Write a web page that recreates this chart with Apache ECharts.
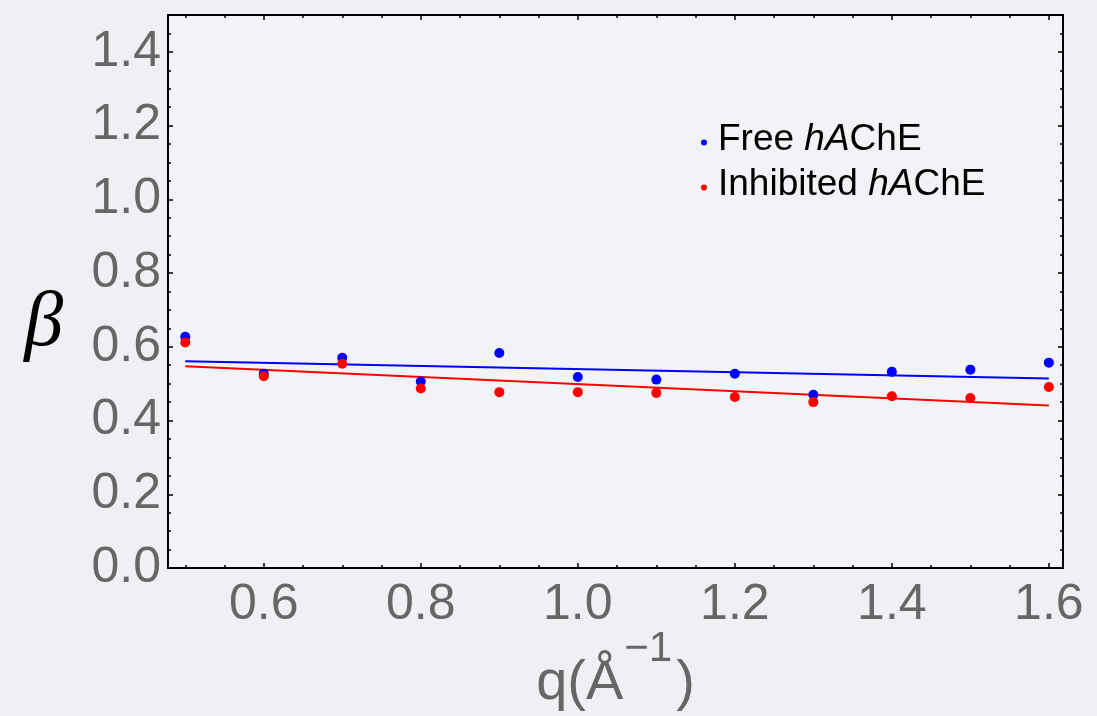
<!DOCTYPE html>
<html>
<head>
<meta charset="utf-8">
<script src="https://cdn.jsdelivr.net/npm/echarts@6/dist/echarts.min.js"></script>
<style>
  html, body { margin: 0; padding: 0; background: #eff0f4; }
  #chart { width: 1097px; height: 716px; }
</style>
</head>
<body>
<div id="chart"></div>
<script>
// Stretching exponent beta versus momentum transfer q
const qValues = [0.5, 0.6, 0.7, 0.8, 0.9, 1.0, 1.1, 1.2, 1.3, 1.4, 1.5, 1.6];
const betaFree = [0.627, 0.527, 0.570, 0.506, 0.583, 0.518, 0.511, 0.527, 0.470, 0.532, 0.538, 0.557];
const betaInhibited = [0.612, 0.520, 0.554, 0.487, 0.477, 0.477, 0.475, 0.464, 0.450, 0.466, 0.461, 0.491];

// Linear fit lines, evaluated at the ends of the q range
const fitQ = [0.5, 1.6];
const fitFree = [0.561, 0.514];
const fitInhibited = [0.547, 0.441];

// Tick values
const xMajorTicks = [0.6, 0.8, 1.0, 1.2, 1.4, 1.6];
const xMinorTicks = [0.5, 0.55, 0.65, 0.7, 0.75, 0.85, 0.9, 0.95, 1.05, 1.1, 1.15, 1.25, 1.3, 1.35, 1.45, 1.5, 1.55];
const yMajorTicks = [0.0, 0.2, 0.4, 0.6, 0.8, 1.0, 1.2, 1.4];
const yMinorTicks = [0.05, 0.1, 0.15, 0.25, 0.3, 0.35, 0.45, 0.5, 0.55, 0.65, 0.7, 0.75, 0.85, 0.9, 0.95, 1.05, 1.1, 1.15, 1.25, 1.3, 1.35, 1.45];

const seriesNames = ['Free hAChE', 'Inhibited hAChE'];
const seriesColors = ['#0000ff', '#ff0000'];

const pairs = (xs, ys) => xs.map((x, i) => [x, ys[i]]);

const X_MIN = 0.478, X_MAX = 1.618, Y_MIN = 0, Y_MAX = 1.5;
const labelFont = 'Liberation Sans, Arial, sans-serif';
const labelGray = '#666666';

function makeX(position, ticks, len, withLabels, showName) {
  return {
    type: 'value', position: position, min: X_MIN, max: X_MAX,
    axisLine: { show: true, onZero: false, lineStyle: { color: '#000', width: 2 } },
    axisTick: { show: true, inside: true, length: len, customValues: ticks, lineStyle: { color: '#000', width: 1.5 } },
    axisLabel: withLabels ? {
      show: true, customValues: xMajorTicks, margin: 12,
      formatter: v => v.toFixed(1),
      fontSize: 50, fontFamily: labelFont, color: labelGray
    } : { show: false },
    splitLine: { show: false },
    // q(Å^-1) with a raised exponent
    name: showName ? '{n|q(Å}{s|−1}{n|)}' : '',
    nameLocation: 'middle', nameGap: 60, nameMoveOverlap: false,
    nameTextStyle: {
      rich: {
        n: { fontSize: 56, lineHeight: 56, fontFamily: labelFont, color: labelGray, verticalAlign: 'bottom' },
        s: { fontSize: 42, fontFamily: labelFont, color: labelGray, verticalAlign: 'top', padding: [0, 4, 42, 1] }
      }
    }
  };
}

function makeY(position, ticks, len, withLabels, showName) {
  return {
    type: 'value', position: position, min: Y_MIN, max: Y_MAX,
    axisLine: { show: true, onZero: false, lineStyle: { color: '#000', width: 2 } },
    axisTick: { show: true, inside: true, length: len, customValues: ticks, lineStyle: { color: '#000', width: 1.5 } },
    axisLabel: withLabels ? {
      show: true, customValues: yMajorTicks, margin: 7,
      formatter: v => v.toFixed(1),
      fontSize: 50, fontFamily: labelFont, color: labelGray
    } : { show: false },
    splitLine: { show: false },
    name: showName ? 'β' : '',
    nameLocation: 'middle', nameGap: 105, nameRotate: 0, nameMoveOverlap: false,
    nameTextStyle: {
      fontSize: 78, lineHeight: 66, fontStyle: 'italic', fontFamily: 'Liberation Serif, Times New Roman, serif',
      color: '#000', verticalAlign: 'top'
    }
  };
}

const chart = echarts.init(document.getElementById('chart'), null, { renderer: 'canvas' });

chart.setOption({
  backgroundColor: '#eff0f4',
  animation: false,
  grid: {
    left: 168, top: 15, right: 34, bottom: 148,
    show: true, backgroundColor: '#f2f3f7', borderColor: '#000', borderWidth: 0,
    containLabel: false, outerBoundsMode: 'none'
  },
  xAxis: [
    makeX('bottom', xMajorTicks, 5, true, true),
    makeX('bottom', xMinorTicks, 3, false, false),
    makeX('top', xMajorTicks, 5, false, false),
    makeX('top', xMinorTicks, 3, false, false)
  ],
  yAxis: [
    makeY('left', yMajorTicks, 5, true, true),
    makeY('left', yMinorTicks, 3, false, false),
    makeY('right', yMajorTicks, 5, false, false),
    makeY('right', yMinorTicks, 3, false, false)
  ],
  legend: {
    data: seriesNames,
    orient: 'vertical',
    left: 696, top: 116,
    icon: 'circle', itemWidth: 6, itemHeight: 6, itemGap: 2,
    formatter: name => name.replace(' hAChE', ' {i|hA}ChE'),
    textStyle: {
      fontSize: 37, lineHeight: 37, fontFamily: labelFont, color: '#000',
      padding: [0, 0, 6, 6],
      rich: { i: { fontSize: 37, lineHeight: 37, fontFamily: labelFont, fontStyle: 'italic', color: '#000' } }
    }
  },
  series: [
    {
      name: 'Free fit', type: 'line', data: pairs(fitQ, fitFree),
      showSymbol: false, symbol: 'none', lineStyle: { color: seriesColors[0], width: 2 }, z: 2
    },
    {
      name: 'Inhibited fit', type: 'line', data: pairs(fitQ, fitInhibited),
      showSymbol: false, symbol: 'none', lineStyle: { color: seriesColors[1], width: 2 }, z: 2
    },
    {
      name: seriesNames[0], type: 'scatter', data: pairs(qValues, betaFree),
      symbol: 'circle', symbolSize: 10, itemStyle: { color: seriesColors[0], opacity: 1 }, z: 3
    },
    {
      name: seriesNames[1], type: 'scatter', data: pairs(qValues, betaInhibited),
      symbol: 'circle', symbolSize: 10, itemStyle: { color: seriesColors[1], opacity: 1 }, z: 4
    }
  ]
});
</script>
</body>
</html>
